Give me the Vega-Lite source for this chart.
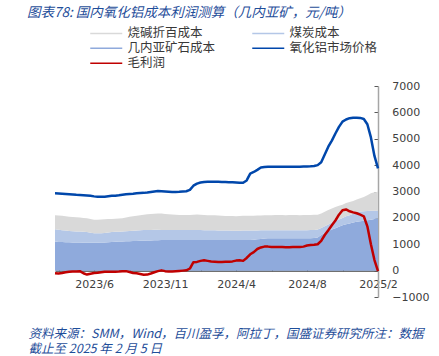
{
"$schema": "https://vega.github.io/schema/vega-lite/v6.json",
"width": 323, "height": 211,
"autosize": {"type": "none"},
"padding": {"left": 55, "top": 86, "right": 61, "bottom": 59},
"background": "white",
"config": {"view": {"stroke": null}, "font": "Noto Sans CJK SC"},
"title": {"text": "图表78: 国内氧化铝成本利润测算（几内亚矿，元/吨）", "anchor": "start", "frame": "group", "dx": -28, "offset": 8, "font": "Noto Sans CJK SC", "fontSize": 13.5, "fontStyle": "italic", "fontWeight": "normal", "color": "#1f4e9a"},
"data": {"values": [
{"i":0,"几内亚矿石成本":1100,"煤炭成本":465,"烧碱折百成本":535,"氧化铝市场价格":2930,"毛利润":-100},
{"i":1,"几内亚矿石成本":1090,"煤炭成本":460,"烧碱折百成本":540,"氧化铝市场价格":2925,"毛利润":-110},
{"i":2,"几内亚矿石成本":1085,"煤炭成本":450,"烧碱折百成本":545,"氧化铝市场价格":2915,"毛利润":-90},
{"i":3,"几内亚矿石成本":1080,"煤炭成本":440,"烧碱折百成本":540,"氧化铝市场价格":2905,"毛利润":-60},
{"i":4,"几内亚矿石成本":1075,"煤炭成本":430,"烧碱折百成本":540,"氧化铝市场价格":2895,"毛利润":-40},
{"i":5,"几内亚矿石成本":1070,"煤炭成本":425,"烧碱折百成本":535,"氧化铝市场价格":2885,"毛利润":-30},
{"i":6,"几内亚矿石成本":1065,"煤炭成本":420,"烧碱折百成本":535,"氧化铝市场价格":2875,"毛利润":-30},
{"i":7,"几内亚矿石成本":1065,"煤炭成本":415,"烧碱折百成本":530,"氧化铝市场价格":2868,"毛利润":-20},
{"i":8,"几内亚矿石成本":1060,"煤炭成本":415,"烧碱折百成本":525,"氧化铝市场价格":2862,"毛利润":-100},
{"i":9,"几内亚矿石成本":1060,"煤炭成本":400,"烧碱折百成本":530,"氧化铝市场价格":2850,"毛利润":-150},
{"i":10,"几内亚矿石成本":1060,"煤炭成本":380,"烧碱折百成本":520,"氧化铝市场价格":2835,"毛利润":-120},
{"i":11,"几内亚矿石成本":1060,"煤炭成本":360,"烧碱折百成本":510,"氧化铝市场价格":2815,"毛利润":-90},
{"i":12,"几内亚矿石成本":1060,"煤炭成本":355,"烧碱折百成本":510,"氧化铝市场价格":2800,"毛利润":-80},
{"i":13,"几内亚矿石成本":1065,"煤炭成本":355,"烧碱折百成本":515,"氧化铝市场价格":2800,"毛利润":-60},
{"i":14,"几内亚矿石成本":1070,"煤炭成本":360,"烧碱折百成本":515,"氧化铝市场价格":2805,"毛利润":-40},
{"i":15,"几内亚矿石成本":1080,"煤炭成本":365,"烧碱折百成本":510,"氧化铝市场价格":2820,"毛利润":-40},
{"i":16,"几内亚矿石成本":1090,"煤炭成本":370,"烧碱折百成本":500,"氧化铝市场价格":2835,"毛利润":-40},
{"i":17,"几内亚矿石成本":1095,"煤炭成本":375,"烧碱折百成本":495,"氧化铝市场价格":2840,"毛利润":-40},
{"i":18,"几内亚矿石成本":1100,"煤炭成本":375,"烧碱折百成本":500,"氧化铝市场价格":2855,"毛利润":-35},
{"i":19,"几内亚矿石成本":1105,"煤炭成本":380,"烧碱折百成本":505,"氧化铝市场价格":2875,"毛利润":-25},
{"i":20,"几内亚矿石成本":1110,"煤炭成本":385,"烧碱折百成本":515,"氧化铝市场价格":2895,"毛利润":-20},
{"i":21,"几内亚矿石成本":1115,"煤炭成本":390,"烧碱折百成本":535,"氧化铝市场价格":2905,"毛利润":-50},
{"i":22,"几内亚矿石成本":1120,"煤炭成本":395,"烧碱折百成本":545,"氧化铝市场价格":2915,"毛利润":-90},
{"i":23,"几内亚矿石成本":1125,"煤炭成本":400,"烧碱折百成本":555,"氧化铝市场价格":2930,"毛利润":-100},
{"i":24,"几内亚矿石成本":1130,"煤炭成本":405,"烧碱折百成本":565,"氧化铝市场价格":2940,"毛利润":-130},
{"i":25,"几内亚矿石成本":1135,"煤炭成本":405,"烧碱折百成本":580,"氧化铝市场价格":2948,"毛利润":-160},
{"i":26,"几内亚矿石成本":1140,"煤炭成本":405,"烧碱折百成本":590,"氧化铝市场价格":2960,"毛利润":-150},
{"i":27,"几内亚矿石成本":1145,"煤炭成本":400,"烧碱折百成本":605,"氧化铝市场价格":2980,"毛利润":-110},
{"i":28,"几内亚矿石成本":1150,"煤炭成本":400,"烧碱折百成本":610,"氧化铝市场价格":3000,"毛利润":-60},
{"i":29,"几内亚矿石成本":1155,"煤炭成本":395,"烧碱折百成本":620,"氧化铝市场价格":3015,"毛利润":-20},
{"i":30,"几内亚矿石成本":1160,"煤炭成本":385,"烧碱折百成本":620,"氧化铝市场价格":3010,"毛利润":10},
{"i":31,"几内亚矿石成本":1160,"煤炭成本":380,"烧碱折百成本":610,"氧化铝市场价格":3000,"毛利润":-20},
{"i":32,"几内亚矿石成本":1160,"煤炭成本":380,"烧碱折百成本":600,"氧化铝市场价格":2990,"毛利润":-30},
{"i":33,"几内亚矿石成本":1160,"煤炭成本":380,"烧碱折百成本":590,"氧化铝市场价格":2980,"毛利润":-30},
{"i":34,"几内亚矿石成本":1160,"煤炭成本":380,"烧碱折百成本":580,"氧化铝市场价格":2985,"毛利润":-20},
{"i":35,"几内亚矿石成本":1160,"煤炭成本":380,"烧碱折百成本":570,"氧化铝市场价格":2990,"毛利润":-10},
{"i":36,"几内亚矿石成本":1160,"煤炭成本":380,"烧碱折百成本":570,"氧化铝市场价格":3000,"毛利润":0},
{"i":37,"几内亚矿石成本":1160,"煤炭成本":380,"烧碱折百成本":570,"氧化铝市场价格":3010,"毛利润":10},
{"i":38,"几内亚矿石成本":1160,"煤炭成本":380,"烧碱折百成本":570,"氧化铝市场价格":3060,"毛利润":80},
{"i":39,"几内亚矿石成本":1160,"煤炭成本":380,"烧碱折百成本":580,"氧化铝市场价格":3220,"毛利润":320},
{"i":40,"几内亚矿石成本":1160,"煤炭成本":380,"烧碱折百成本":585,"氧化铝市场价格":3300,"毛利润":330},
{"i":41,"几内亚矿石成本":1160,"煤炭成本":380,"烧碱折百成本":580,"氧化铝市场价格":3340,"毛利润":370},
{"i":42,"几内亚矿石成本":1160,"煤炭成本":375,"烧碱折百成本":575,"氧化铝市场价格":3360,"毛利润":390},
{"i":43,"几内亚矿石成本":1160,"煤炭成本":375,"烧碱折百成本":565,"氧化铝市场价格":3370,"毛利润":370},
{"i":44,"几内亚矿石成本":1160,"煤炭成本":370,"烧碱折百成本":570,"氧化铝市场价格":3370,"毛利润":350},
{"i":45,"几内亚矿石成本":1160,"煤炭成本":370,"烧碱折百成本":565,"氧化铝市场价格":3365,"毛利润":340},
{"i":46,"几内亚矿石成本":1160,"煤炭成本":365,"烧碱折百成本":565,"氧化铝市场价格":3365,"毛利润":330},
{"i":47,"几内亚矿石成本":1160,"煤炭成本":360,"烧碱折百成本":560,"氧化铝市场价格":3360,"毛利润":330},
{"i":48,"几内亚矿石成本":1160,"煤炭成本":360,"烧碱折百成本":555,"氧化铝市场价格":3360,"毛利润":335},
{"i":49,"几内亚矿石成本":1160,"煤炭成本":360,"烧碱折百成本":550,"氧化铝市场价格":3355,"毛利润":340},
{"i":50,"几内亚矿石成本":1160,"煤炭成本":355,"烧碱折百成本":555,"氧化铝市场价格":3350,"毛利润":350},
{"i":51,"几内亚矿石成本":1160,"煤炭成本":355,"烧碱折百成本":545,"氧化铝市场价格":3340,"毛利润":380},
{"i":52,"几内亚矿石成本":1160,"煤炭成本":355,"烧碱折百成本":555,"氧化铝市场价格":3330,"毛利润":390},
{"i":53,"几内亚矿石成本":1160,"煤炭成本":360,"烧碱折百成本":560,"氧化铝市场价格":3330,"毛利润":370},
{"i":54,"几内亚矿石成本":1160,"煤炭成本":360,"烧碱折百成本":560,"氧化铝市场价格":3420,"毛利润":480},
{"i":55,"几内亚矿石成本":1160,"煤炭成本":360,"烧碱折百成本":565,"氧化铝市场价格":3680,"毛利润":620},
{"i":56,"几内亚矿石成本":1170,"煤炭成本":355,"烧碱折百成本":560,"氧化铝市场价格":3740,"毛利润":700},
{"i":57,"几内亚矿石成本":1185,"煤炭成本":340,"烧碱折百成本":565,"氧化铝市场价格":3820,"毛利润":820},
{"i":58,"几内亚矿石成本":1200,"煤炭成本":330,"烧碱折百成本":560,"氧化铝市场价格":3910,"毛利润":880},
{"i":59,"几内亚矿石成本":1215,"煤炭成本":315,"烧碱折百成本":565,"氧化铝市场价格":3930,"毛利润":910},
{"i":60,"几内亚矿石成本":1225,"煤炭成本":305,"烧碱折百成本":570,"氧化铝市场价格":3935,"毛利润":910},
{"i":61,"几内亚矿石成本":1225,"煤炭成本":305,"烧碱折百成本":570,"氧化铝市场价格":3935,"毛利润":900},
{"i":62,"几内亚矿石成本":1225,"煤炭成本":305,"烧碱折百成本":575,"氧化铝市场价格":3935,"毛利润":900},
{"i":63,"几内亚矿石成本":1225,"煤炭成本":310,"烧碱折百成本":570,"氧化铝市场价格":3935,"毛利润":895},
{"i":64,"几内亚矿石成本":1225,"煤炭成本":310,"烧碱折百成本":570,"氧化铝市场价格":3935,"毛利润":895},
{"i":65,"几内亚矿石成本":1225,"煤炭成本":305,"烧碱折百成本":570,"氧化铝市场价格":3935,"毛利润":890},
{"i":66,"几内亚矿石成本":1225,"煤炭成本":305,"烧碱折百成本":575,"氧化铝市场价格":3935,"毛利润":890},
{"i":67,"几内亚矿石成本":1225,"煤炭成本":310,"烧碱折百成本":570,"氧化铝市场价格":3935,"毛利润":895},
{"i":68,"几内亚矿石成本":1225,"煤炭成本":310,"烧碱折百成本":570,"氧化铝市场价格":3935,"毛利润":900},
{"i":69,"几内亚矿石成本":1225,"煤炭成本":305,"烧碱折百成本":570,"氧化铝市场价格":3940,"毛利润":900},
{"i":70,"几内亚矿石成本":1225,"煤炭成本":305,"烧碱折百成本":575,"氧化铝市场价格":3945,"毛利润":910},
{"i":71,"几内亚矿石成本":1225,"煤炭成本":310,"烧碱折百成本":570,"氧化铝市场价格":3950,"毛利润":950},
{"i":72,"几内亚矿石成本":1230,"煤炭成本":310,"烧碱折百成本":570,"氧化铝市场价格":3955,"毛利润":970},
{"i":73,"几内亚矿石成本":1235,"煤炭成本":310,"烧碱折百成本":570,"氧化铝市场价格":3965,"毛利润":980},
{"i":74,"几内亚矿石成本":1260,"煤炭成本":300,"烧碱折百成本":560,"氧化铝市场价格":4000,"毛利润":1000},
{"i":75,"几内亚矿石成本":1350,"煤炭成本":270,"烧碱折百成本":550,"氧化铝市场价格":4110,"毛利润":1130},
{"i":76,"几内亚矿石成本":1430,"煤炭成本":250,"烧碱折百成本":550,"氧化铝市场价格":4400,"毛利润":1350},
{"i":77,"几内亚矿石成本":1500,"煤炭成本":250,"烧碱折百成本":550,"氧化铝市场价格":4700,"毛利润":1530},
{"i":78,"几内亚矿石成本":1560,"煤炭成本":260,"烧碱折百成本":540,"氧化铝市场价格":4930,"毛利润":1720},
{"i":79,"几内亚矿石成本":1610,"煤炭成本":280,"烧碱折百成本":520,"氧化铝市场价格":5200,"毛利润":1900},
{"i":80,"几内亚矿石成本":1660,"煤炭成本":280,"烧碱折百成本":520,"氧化铝市场价格":5450,"毛利润":2120},
{"i":81,"几内亚矿石成本":1720,"煤炭成本":280,"烧碱折百成本":500,"氧化铝市场价格":5650,"毛利润":2290},
{"i":82,"几内亚矿石成本":1760,"煤炭成本":300,"烧碱折百成本":500,"氧化铝市场价格":5730,"毛利润":2320},
{"i":83,"几内亚矿石成本":1790,"煤炭成本":310,"烧碱折百成本":500,"氧化铝市场价格":5780,"毛利润":2250},
{"i":84,"几内亚矿石成本":1820,"煤炭成本":340,"烧碱折百成本":480,"氧化铝市场价格":5800,"毛利润":2210},
{"i":85,"几内亚矿石成本":1850,"煤炭成本":370,"烧碱折百成本":480,"氧化铝市场价格":5800,"毛利润":2175},
{"i":86,"几内亚矿石成本":1870,"煤炭成本":370,"烧碱折百成本":500,"氧化铝市场价格":5790,"毛利润":2120},
{"i":87,"几内亚矿石成本":1890,"煤炭成本":360,"烧碱折百成本":540,"氧化铝市场价格":5750,"毛利润":2060},
{"i":88,"几内亚矿石成本":1910,"煤炭成本":350,"烧碱折百成本":600,"氧化铝市场价格":5550,"毛利润":1680},
{"i":89,"几内亚矿石成本":1930,"煤炭成本":340,"烧碱折百成本":660,"氧化铝市场价格":5050,"毛利润":1000},
{"i":90,"几内亚矿石成本":1960,"煤炭成本":310,"烧碱折百成本":700,"氧化铝市场价格":4350,"毛利润":400},
{"i":91,"几内亚矿石成本":1980,"煤炭成本":290,"烧碱折百成本":720,"氧化铝市场价格":3880,"毛利润":-20}
]},
"encoding": {
  "x": {"field": "i", "type": "quantitative",
    "scale": {"domain": [0, 91], "nice": false, "zero": false},
    "axis": {"values": [1, 11, 21, 31, 41, 51, 61, 71, 81, 91], "offset": -26.375, "grid": false,
      "labelExpr": "datum.value == 11 ? '2023/6' : datum.value == 31 ? '2023/11' : datum.value == 51 ? '2024/4' : datum.value == 71 ? '2024/8' : datum.value == 91 ? '2025/2' : ''",
      "labelFont": "DejaVu Sans", "labelFontSize": 11, "labelColor": "#404040", "labelPadding": 12, "labelOverlap": false, "labelFlush": false, "labelBound": false,
      "tickSize": -4, "tickColor": "#404040", "tickWidth": 1, "domainColor": "#404040", "domainWidth": 1.2,
      "title": ["资料来源：SMM，Wind，百川盈孚，阿拉丁，国盛证券研究所注：数据", "截止至 2025 年 2 月 5 日"],
      "titleX": -27, "titleY": 62.5, "titleAlign": "left", "titleBaseline": "middle", "titleAngle": 0, "titleLineHeight": 15.5,
      "titleFont": "Noto Sans CJK SC", "titleFontSize": 12.5, "titleFontStyle": "italic", "titleFontWeight": "normal", "titleColor": "#1f4e9a"}},
  "y": {"field": "value", "type": "quantitative",
    "scale": {"domain": [-1000, 7000], "nice": false, "zero": false},
    "axis": {"orient": "right", "values": [-1000, 0, 1000, 2000, 3000, 4000, 5000, 6000, 7000], "format": "d", "grid": false, "title": null,
      "labelFont": "DejaVu Sans", "labelFontSize": 11, "labelColor": "#404040", "labelAlign": "left", "labelPadding": 17.7,
      "tickSize": -4, "tickColor": "#595959", "domainColor": "#a6a6a6", "domainWidth": 1.5}}
},
"layer": [
  {"mark": {"type": "area", "opacity": 1},
   "transform": [
     {"fold": ["几内亚矿石成本", "煤炭成本", "烧碱折百成本"], "as": ["series", "value"]},
     {"window": [{"op": "row_number", "as": "k"}], "groupby": ["i"]}
   ],
   "encoding": {
     "color": {"field": "series", "type": "nominal",
       "scale": {"domain": ["烧碱折百成本", "煤炭成本", "几内亚矿石成本", "氧化铝市场价格", "毛利润"], "range": ["#d9d9d9", "#b4c7e7", "#8faadc", "#0047ab", "#c00000"]},
       "legend": {"orient": "none", "direction": "horizontal", "legendX": 45, "legendY": -59, "columns": 2, "title": null,
         "symbolType": "M-3.2,0H3.2", "symbolSize": 100, "labelOffset": 15, "columnPadding": 33, "rowPadding": 2,
         "labelFont": "Noto Sans CJK SC", "labelFontSize": 12.5, "labelColor": "#383838", "labelLimit": 300, "padding": 0,
         "encode": {"symbols": {"update": {
           "stroke": {"signal": "scale('color', datum.value)"},
           "strokeWidth": {"signal": "datum.value === '氧化铝市场价格' || datum.value === '毛利润' ? 2.5 : 7"},
           "fill": {"value": "transparent"}, "opacity": {"value": 1}}}}}},
     "order": {"field": "k", "type": "quantitative"}
   }},
  {"mark": {"type": "line", "strokeWidth": 2.5, "strokeJoin": "round"},
   "transform": [{"fold": ["氧化铝市场价格", "毛利润"], "as": ["series", "value"]}],
   "encoding": {"color": {"field": "series", "type": "nominal"}}}
]
}
